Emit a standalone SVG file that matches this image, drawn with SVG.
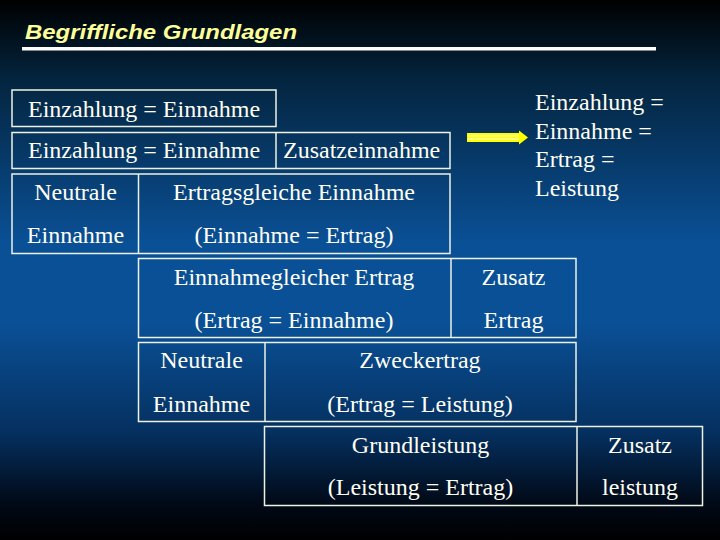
<svg xmlns="http://www.w3.org/2000/svg" width="720" height="540" viewBox="0 0 720 540">
<defs>
<linearGradient id="bg" x1="0" y1="0" x2="0" y2="1">
<stop offset="0" stop-color="#000000"/>
<stop offset="0.15" stop-color="#042540"/>
<stop offset="0.45" stop-color="#0a5096"/>
<stop offset="0.6" stop-color="#0a5096"/>
<stop offset="0.8" stop-color="#053060"/>
<stop offset="0.93" stop-color="#010a18"/>
<stop offset="1" stop-color="#000000"/>
</linearGradient>
<style>
.b{fill:none;stroke:#eef2e4;stroke-width:1.5}
.t{font-family:'Liberation Serif',serif;font-size:24px;fill:#fffff4}
.c{text-anchor:middle}
.title{font-family:'Liberation Sans',sans-serif;font-weight:bold;font-style:italic;font-size:20px;fill:#ffff99}
</style>
</defs>
<rect x="0" y="0" width="720" height="540" fill="url(#bg)"/>
<g id="title">
<text class="title" x="25" y="39" textLength="272" lengthAdjust="spacingAndGlyphs">Begriffliche Grundlagen</text>
<rect x="22" y="47" width="634" height="3.5" fill="#ffffff"/>
</g>
<g id="row1">
<rect class="b" x="12" y="90" width="264" height="36.5"/>
<text class="t" font-family="'Liberation Serif'" x="28" y="117">Einzahlung = Einnahme</text>
</g>
<g id="row2">
<rect class="b" x="12" y="132.5" width="438" height="36"/>
<line class="b" x1="276" y1="132.5" x2="276" y2="168.5"/>
<text class="t" font-family="'Liberation Serif'" x="28" y="158">Einzahlung = Einnahme</text>
<text class="t" font-family="'Liberation Serif'" x="283" y="158">Zusatzeinnahme</text>
</g>
<g id="row3">
<rect class="b" x="12" y="174" width="438" height="79.5"/>
<line class="b" x1="138.5" y1="174" x2="138.5" y2="253.5"/>
<text class="t c" font-family="'Liberation Serif'" x="75.5" y="200">Neutrale</text>
<text class="t c" font-family="'Liberation Serif'" x="75.5" y="243">Einnahme</text>
<text class="t c" font-family="'Liberation Serif'" x="294" y="200">Ertragsgleiche Einnahme</text>
<text class="t c" font-family="'Liberation Serif'" x="294" y="243">(Einnahme = Ertrag)</text>
</g>
<g id="row4">
<rect class="b" x="138.5" y="258.5" width="437.5" height="79"/>
<line class="b" x1="451" y1="258.5" x2="451" y2="337.5"/>
<text class="t c" font-family="'Liberation Serif'" x="294" y="285">Einnahmegleicher Ertrag</text>
<text class="t c" font-family="'Liberation Serif'" x="294" y="328">(Ertrag = Einnahme)</text>
<text class="t c" font-family="'Liberation Serif'" x="513.5" y="285">Zusatz</text>
<text class="t c" font-family="'Liberation Serif'" x="513.5" y="328">Ertrag</text>
</g>
<g id="row5">
<rect class="b" x="138.5" y="342.5" width="437.5" height="79"/>
<line class="b" x1="265" y1="342.5" x2="265" y2="421.5"/>
<text class="t c" font-family="'Liberation Serif'" x="201.5" y="368">Neutrale</text>
<text class="t c" font-family="'Liberation Serif'" x="201.5" y="411.5">Einnahme</text>
<text class="t c" font-family="'Liberation Serif'" x="420" y="368">Zweckertrag</text>
<text class="t c" font-family="'Liberation Serif'" x="420" y="411.5">(Ertrag = Leistung)</text>
</g>
<g id="row6">
<rect class="b" x="264.5" y="426.5" width="438" height="79"/>
<line class="b" x1="577" y1="426.5" x2="577" y2="505.5"/>
<text class="t c" font-family="'Liberation Serif'" x="420.5" y="453">Grundleistung</text>
<text class="t c" font-family="'Liberation Serif'" x="420.5" y="495">(Leistung = Ertrag)</text>
<text class="t c" font-family="'Liberation Serif'" x="640" y="453">Zusatz</text>
<text class="t c" font-family="'Liberation Serif'" x="640" y="495">leistung</text>
</g>
<g id="result">
<text class="t" font-family="'Liberation Serif'" x="535" y="110">Einzahlung =</text>
<text class="t" font-family="'Liberation Serif'" x="535" y="139">Einnahme =</text>
<text class="t" font-family="'Liberation Serif'" x="535" y="167">Ertrag =</text>
<text class="t" font-family="'Liberation Serif'" x="535" y="196">Leistung</text>
</g>
<g id="connectors">
<rect x="467" y="133" width="54" height="9" fill="#ffff00"/>
<line x1="468" y1="135.8" x2="521" y2="135.8" stroke="#ffffcc" stroke-width="1.2"/>
<line x1="468" y1="139.2" x2="521" y2="139.2" stroke="#ffffcc" stroke-width="1.2"/>
<polygon points="519,130.5 528,137.5 519,144.5" fill="#ffff00"/>
</g>
</svg>
